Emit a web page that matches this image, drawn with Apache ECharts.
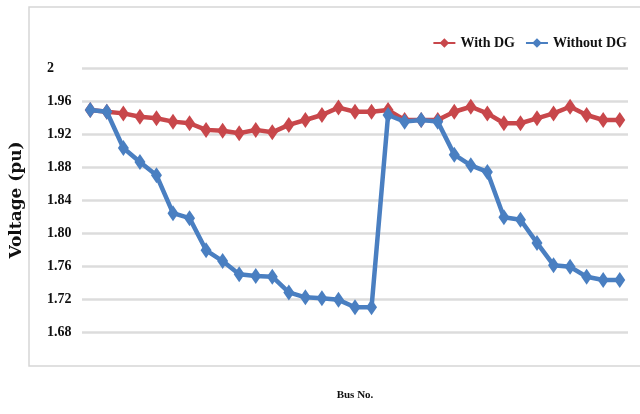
<!DOCTYPE html>
<html><head><meta charset="utf-8">
<script src="https://cdn.jsdelivr.net/npm/echarts@6/dist/echarts.min.js"></script>
<style>html,body{margin:0;padding:0;background:#fff}#c{width:640px;height:414px}</style>
</head><body><div id="c"></div>
<script>
const buses = Array.from({length:33},(_,i)=>String(i+1));
const withDG = [1.949,1.947,1.945,1.941,1.939,1.935,1.933,1.925,1.924,1.921,1.925,1.922,1.931,1.937,1.943,1.952,1.947,1.947,1.949,1.937,1.937,1.937,1.947,1.953,1.945,1.933,1.933,1.939,1.945,1.953,1.943,1.937,1.937];
const withoutDG = [1.949,1.947,1.903,1.886,1.870,1.824,1.818,1.779,1.766,1.750,1.748,1.747,1.728,1.722,1.721,1.719,1.710,1.710,1.943,1.935,1.937,1.935,1.895,1.882,1.874,1.819,1.816,1.788,1.761,1.759,1.747,1.743,1.743];
const seriesNames = ['With DG','Without DG'];
const yMin = 1.68, yMax = 2.0, yStep = 0.04;

const chart = echarts.init(document.getElementById('c'), null, {renderer:'canvas'});
const serif = '"Liberation Serif","Times New Roman",serif';
chart.setOption({
  animation:false,
  backgroundColor:'#fff',
  graphic:[{type:'rect',shape:{x:29,y:7,width:620,height:359},style:{fill:'none',stroke:'#d6d6d6',lineWidth:1.5},z:-1}],
  legend:{top:31,right:8,itemGap:10,itemWidth:22,itemHeight:12,
    textStyle:{fontFamily:serif,fontWeight:'bold',fontSize:14,color:'#111'},
    data:seriesNames},
  grid:{left:78,right:12,top:68,bottom:82},
  xAxis:{type:'category',data:buses,boundaryGap:true,name:'Bus No.',nameLocation:'middle',nameGap:58,
    nameTextStyle:{fontFamily:serif,fontWeight:'bold',fontSize:11,color:'#111'},
    axisLine:{show:false},axisTick:{show:false},axisLabel:{show:false}},
  yAxis:{type:'value',min:yMin,max:yMax,interval:yStep,name:'Voltage (pu)',nameLocation:'middle',nameGap:57,
    nameTextStyle:{fontFamily:'"DejaVu Serif",serif',fontWeight:'bold',fontSize:17,color:'#111'},
    axisLine:{show:false},axisTick:{show:false},
    axisLabel:{fontFamily:serif,fontWeight:'bold',fontSize:14,color:'#111',margin:35,align:'left',
      formatter:v=>Math.abs(v-2)<1e-9?'2':v.toFixed(2)},
    splitLine:{lineStyle:{color:'#dcdcdc',width:2.5}}},
  series:[
    {name:seriesNames[0],type:'line',data:withDG,symbol:'diamond',symbolSize:[11,16],showAllSymbol:true,
      itemStyle:{color:'#c8474b'},lineStyle:{color:'#c8474b',width:4.5},z:3},
    {name:seriesNames[1],type:'line',data:withoutDG,symbol:'diamond',symbolSize:[11,16],showAllSymbol:true,
      itemStyle:{color:'#4a7fc1'},lineStyle:{color:'#4a7fc1',width:4.5},z:4}
  ]
});
</script></body></html>
